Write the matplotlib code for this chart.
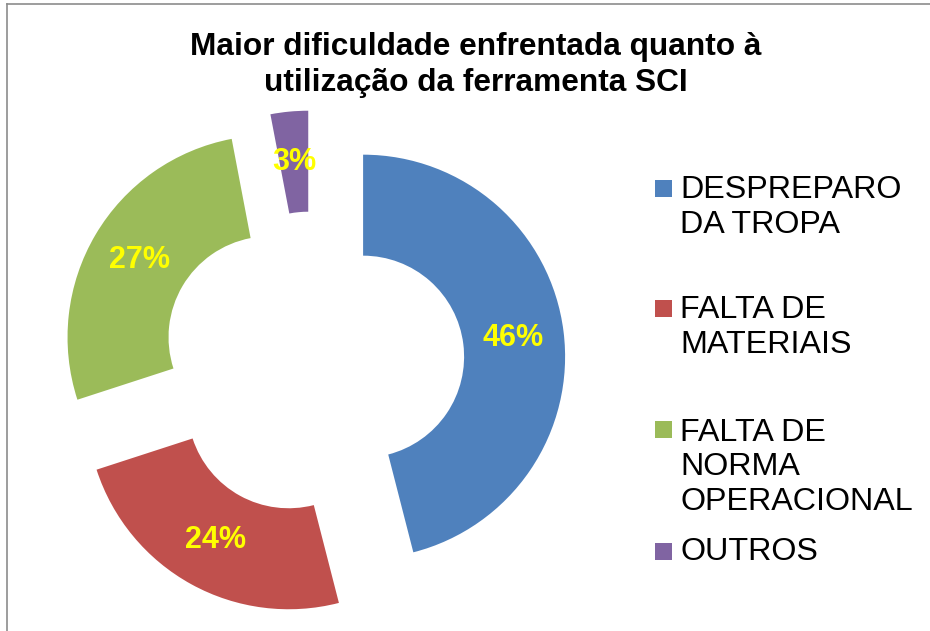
import matplotlib
matplotlib.use("Agg")
import matplotlib.pyplot as plt
from matplotlib.patches import Rectangle
from matplotlib.lines import Line2D

# ---- data ----
categories = ["DESPREPARO\nDA TROPA", "FALTA DE\nMATERIAIS",
              "FALTA DE\nNORMA\nOPERACIONAL", "OUTROS"]
values = [46, 24, 27, 3]
colors = ["#4F81BD", "#C0504D", "#9BBB59", "#8064A2"]
title = "Maior dificuldade enfrentada quanto à\nutilização da ferramenta SCI"

W, H = 930, 631
plt.rcParams['font.family'] = ['Liberation Sans', 'DejaVu Sans']
fig = plt.figure(figsize=(W / 100, H / 100), dpi=100)

# pie axes spanning whole figure; map pixels -> data
scale = 202.0
cx, cy = 313.0, 363.0
ax = fig.add_axes([0, 0, 1, 1])
wedges, texts, autotexts = ax.pie(
    values, colors=colors, startangle=90, counterclock=False,
    radius=1.0, explode=[0.25] * len(values),
    wedgeprops=dict(width=0.5, linewidth=0),
    autopct='%1.0f%%', pctdistance=0.75,
    textprops=dict(color='#FFFF00', fontsize=22, fontweight='bold'))
ax.set_xlim(-cx / scale, (W - cx) / scale)
ax.set_ylim(-(H - cy) / scale, cy / scale)
ax.axis('off')

def fx(px):
    return px / W

def fy(py):
    return 1 - py / H

# title (baseline of last line)
fig.text(fx(475.5), fy(91), title, ha='center', va='baseline',
         fontsize=22.8, fontweight='bold', color='black', linespacing=1.28)

# legend (manual, square aligned to first text line)
line_h = 36
baselines = [197, 317, 438, 560]
for lab, col, by in zip(categories, colors, baselines):
    nlines = lab.count("\n") + 1
    fig.patches.append(Rectangle((fx(655), fy(by)), 17 / W, 17 / H,
                                 transform=fig.transFigure, color=col,
                                 linewidth=0))
    fig.text(fx(680), fy(by + (nlines - 1) * line_h), lab, ha='left',
             va='baseline', fontsize=23.2, color='black', linespacing=1.2)

# chart border (top and left visible)
fig.lines.append(Line2D([fx(7), 1], [fy(4), fy(4)], transform=fig.transFigure,
                        color='#8C8C8C', linewidth=1.2))
fig.lines.append(Line2D([fx(7), fx(7)], [fy(4), 0], transform=fig.transFigure,
                        color='#8C8C8C', linewidth=1.2))

fig.savefig("out.png", dpi=100, facecolor='white')
